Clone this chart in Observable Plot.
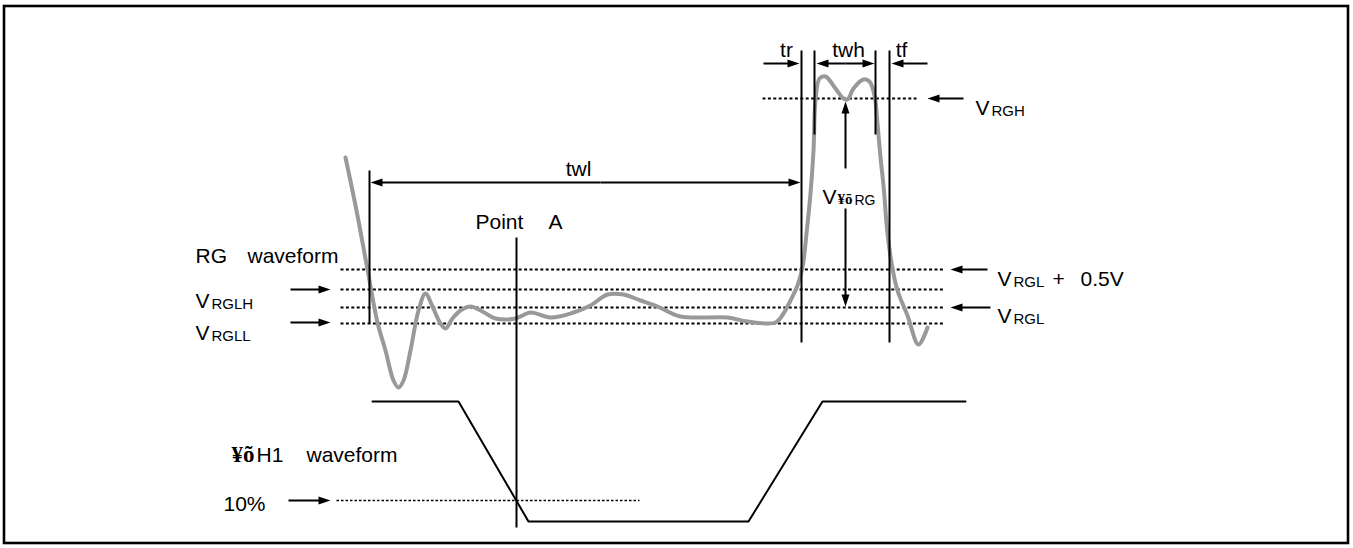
<!DOCTYPE html>
<html><head><meta charset="utf-8">
<script src="https://cdn.jsdelivr.net/npm/d3@7"></script>
<script src="https://cdn.jsdelivr.net/npm/@observablehq/plot@0.6"></script>
<style>body{margin:0;background:#fff}</style>
</head><body><div id="chart"></div>
<script>
// ---- data (diagram units: t = time axis, v = level axis, downward) ----
const rgWave = [
  [345,157],[356,210],[367,269],[377,322],[385,350],[393,380],[398,387],[403,380],[410,350],[418,310],
  [425,293],[432,306],[440,323],[445,328],[452,318],[460,310],[470,306],[482,311],[495,318],[515,318],
  [530,312],[550,317],[573,312],[590,305],[607,294],[623,294],[640,300],[657,306],[680,316],[727,317],
  [747,321],[775,322],[783,313],[790,300],[797,285],[802,267],[806,233],[810,193],[813,150],[815,100],
  [819,78],[825,76],[835,88],[843,98],[847,99],[853,88],[863,79],[869,81],[874,95],[877,123],
  [880,157],[883,185],[887,233],[892,268],[897,290],[907,315],[918,344],[927,327]
];
const h1Wave = [[372,401],[458,401],[528,521],[748,521],[822,401],[965,401]];
const rgLevels = [269, 289, 307, 323];           // VRGL+0.5V, VRGLH, VRGL, VRGLL
const rgLevelSpan = [340, 944];
const vrghLevel = {v: 98, t1: 762, t2: 916};
const tenPct = {v: 500, t1: 336, t2: 639};
const markers = [
  {t: 369, v1: 170, v2: 323}, {t: 516, v1: 237, v2: 527},
  {t: 801, v1: 50, v2: 342}, {t: 814, v1: 50, v2: 134},
  {t: 875, v1: 50, v2: 134}, {t: 889, v1: 50, v2: 342}
];
const arrows = [ // tail -> tip
  {t1: 600, v1: 182, t2: 370, v2: 182}, {t1: 600, v1: 182, t2: 800, v2: 182},
  {t1: 763, v1: 63, t2: 799, v2: 63},
  {t1: 845, v1: 63, t2: 816, v2: 63}, {t1: 845, v1: 63, t2: 874, v2: 63},
  {t1: 927, v1: 63, t2: 891, v2: 63},
  {t1: 963, v1: 98, t2: 927, v2: 98},
  {t1: 845, v1: 168, t2: 845, v2: 101}, {t1: 845, v1: 208, t2: 845, v2: 306},
  {t1: 987, v1: 269, t2: 950, v2: 269}, {t1: 990, v1: 307, t2: 950, v2: 307},
  {t1: 290, v1: 289, t2: 330, v2: 289}, {t1: 290, v1: 322, t2: 330, v2: 322},
  {t1: 288, v1: 500, t2: 330, v2: 500}
];
const mainLabels = [
  {text: "RG", t: 195, base: 262}, {text: "waveform", t: 247, base: 262},
  {text: "V", t: 195, base: 307}, {text: "V", t: 195, base: 339},
  {text: "Point", t: 475, base: 228}, {text: "A", t: 548, base: 228},
  {text: "V", t: 975, base: 114}, {text: "V", t: 822, base: 203},
  {text: "V", t: 997, base: 285}, {text: "+", t: 1052, base: 285}, {text: "0.5V", t: 1080, base: 285},
  {text: "V", t: 997, base: 322},
  {text: "H1", t: 256, base: 461}, {text: "waveform", t: 306, base: 461},
  {text: "10%", t: 223, base: 510}
];
const centeredLabels = [
  {text: "twl", t: 578, base: 175}, {text: "tr", t: 786, base: 56},
  {text: "twh", t: 848, base: 56}, {text: "tf", t: 901, base: 56}
];
const subLabels = [
  {text: "RGLH", t: 211, base: 307}, {text: "RGLL", t: 211, base: 339},
  {text: "RGH", t: 991, base: 114}, {text: "RGL", t: 1013, base: 285},
  {text: "RGL", t: 1013, base: 322}
];
const phiLabels = [{text: "¥õ", t: 231, base: 461}];
const phiSmall = [{text: "¥õ", t: 837, base: 203}];
const phiSub = [{text: "RG", t: 854, base: 203}];
const border = [{t1: 4, t2: 1348, v1: 6, v2: 543}];

// ---- drawing ----
const arrowHead = {draw(ctx) { ctx.moveTo(0, 0); ctx.lineTo(-12, -4); ctx.lineTo(-12, 4); ctx.closePath(); }};
const ang = d => Math.atan2(d.v2 - d.v1, d.t2 - d.t1) * 180 / Math.PI;
const FONT = "Arial, 'Liberation Sans', sans-serif";
const SERIF = "'Liberation Serif', 'DejaVu Serif', serif";
const mid = s => d => d.base - 0.32 * s;

const chart = Plot.plot({
  width: 1353, height: 548, margin: 0,
  x: {domain: [0, 1353], axis: null},
  y: {domain: [548, 0], axis: null},
  style: {background: "#fff", fontFamily: FONT, color: "#000"},
  marks: [
    Plot.rect(border, {x1: "t1", x2: "t2", y1: "v1", y2: "v2", fill: "none", stroke: "#000", strokeWidth: 2.6}),
    Plot.link(rgLevels, {x1: rgLevelSpan[0], x2: rgLevelSpan[1], y1: d => d, y2: d => d, stroke: "#000", strokeWidth: 2, strokeDasharray: "3,2.4"}),
    Plot.link([vrghLevel], {x1: "t1", x2: "t2", y1: "v", y2: "v", stroke: "#000", strokeWidth: 2, strokeDasharray: "3,2.4"}),
    Plot.link([tenPct], {x1: "t1", x2: "t2", y1: "v", y2: "v", stroke: "#000", strokeWidth: 1.3, strokeDasharray: "2.5,2"}),
    Plot.line(rgWave, {x: d => d[0], y: d => d[1], stroke: "#999", strokeWidth: 4, curve: "catmull-rom"}),
    Plot.line(h1Wave, {x: d => d[0], y: d => d[1], stroke: "#000", strokeWidth: 2}),
    Plot.link(markers, {x1: "t", x2: "t", y1: "v1", y2: "v2", stroke: "#000", strokeWidth: 2}),
    Plot.link(arrows, {x1: "t1", y1: "v1",
      x2: d => d.t2 - Math.sign(d.t2 - d.t1) * 8, y2: d => d.v2 - Math.sign(d.v2 - d.v1) * 8,
      stroke: "#000", strokeWidth: 2}),
    Plot.dot(arrows, {x: "t2", y: "v2", symbol: arrowHead, rotate: ang, fill: "#000", stroke: "none"}),
    Plot.text(mainLabels, {x: "t", y: mid(21), text: "text", textAnchor: "start", fontSize: 21, fill: "#000"}),
    Plot.text(centeredLabels, {x: "t", y: mid(21), text: "text", textAnchor: "middle", fontSize: 21, fill: "#000"}),
    Plot.text(subLabels, {x: "t", y: d => d.base + 1 - 0.32 * 15, text: "text", textAnchor: "start", fontSize: 15, fill: "#000"}),
    Plot.text(phiLabels, {x: "t", y: mid(23), text: "text", textAnchor: "start", fontSize: 23, fontWeight: "bold", fontFamily: SERIF, fill: "#000"}),
    Plot.text(phiSmall, {x: "t", y: mid(15), text: "text", textAnchor: "start", fontSize: 15, fontWeight: "bold", fontFamily: SERIF, fill: "#000"}),
    Plot.text(phiSub, {x: "t", y: d => d.base + 1 - 0.32 * 14, text: "text", textAnchor: "start", fontSize: 14, fill: "#000"})
  ]
});
document.getElementById("chart").append(chart);
</script>
</body></html>
